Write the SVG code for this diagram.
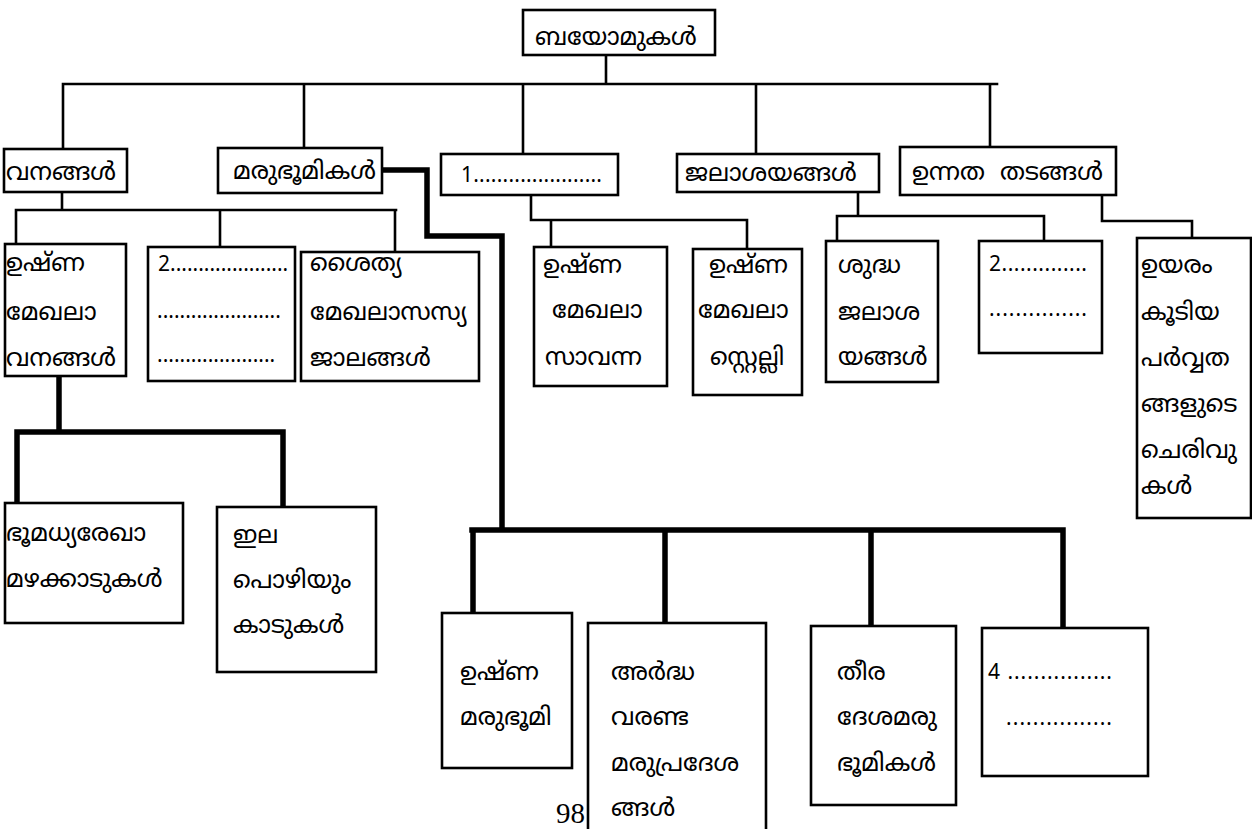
<svg xmlns="http://www.w3.org/2000/svg" width="1252" height="829" viewBox="0 0 1252 829">
<style>
.box{fill:#fff;stroke:#000;stroke-width:2.6}
.t{font-family:"Noto Sans Malayalam","Noto Sans",sans-serif;font-size:24.6px;fill:#000}
.d{font-family:"Noto Sans",sans-serif;font-size:21px;fill:#000}
.c{fill:none;stroke:#000;stroke-width:2.6;stroke-linecap:square}
.k{fill:none;stroke:#000;stroke-width:5.5;stroke-linecap:square}
.pg{font-family:"Liberation Serif",serif;font-size:29px;fill:#000}
</style>
<rect width="1252" height="829" fill="#fff"/>
<g id="connectors">
<path class="c" d="M606 55V84M63 84H997M63 84V148M304 84V148M523 84V154M756 84V154M990 84V147"/>
<path class="c" d="M62 192V210M16 210H396M16 210V244M220 210V246M395 210V251"/>
<path class="c" d="M531 195V220H747M551 220V247M747 220V249"/>
<path class="c" d="M858 192V216M837 216H1044M837 216V241M1044 216V241"/>
<path class="c" d="M1102 195V221H1192V238"/>
<path class="k" d="M384 170H427V236H502V530M472 530H1063M473 530V612M665 530V622M871 530V626M1063 530V628"/>
<path class="k" d="M59 377V432M17 432H283M17 432V501M283 432V505"/>
</g>
<text class="pg" x="556" y="823">98</text>
<g id="n-root"><rect class="box" x="523" y="10" width="192" height="45"/><text class="t" x="535" y="45">ബയോമുകൾ</text></g>
<g id="n-forest"><rect class="box" x="4" y="149" width="123" height="43"/><text class="t" x="6" y="180">വനങ്ങൾ</text></g>
<g id="n-desert"><rect class="box" x="218" y="148" width="164" height="45"/><text class="t" x="233" y="179">മരുഭൂമികൾ</text></g>
<g id="n-blank1"><rect class="box" x="441" y="154" width="177" height="41"/><text class="d" x="461" y="182" textLength="141">1......................</text></g>
<g id="n-water"><rect class="box" x="677" y="154" width="202" height="38"/><text class="t" x="685" y="181">ജലാശയങ്ങൾ</text></g>
<g id="n-high"><rect class="box" x="900" y="147" width="216" height="48"/><text class="t" x="912" y="180" xml:space="preserve">ഉന്നത  തടങ്ങൾ</text></g>
<g id="n-tropical"><rect class="box" x="5" y="244" width="121" height="132"/><text class="t" x="6" y="271">ഉഷ്ണ</text><text class="t" x="6" y="320">മേഖലാ</text><text class="t" x="6" y="366">വനങ്ങൾ</text></g>
<g id="n-blank2"><rect class="box" x="148" y="247" width="147" height="134"/><text class="d" x="158" y="271">2.....................</text><text class="d" x="157" y="318">......................</text><text class="d" x="157" y="362">.....................</text></g>
<g id="n-cold"><rect class="box" x="301" y="252" width="178" height="129"/><text class="t" x="310" y="271">ശൈത്യ</text><text class="t" x="310" y="320">മേഖലാസസ്യ</text><text class="t" x="310" y="366">ജാലങ്ങൾ</text></g>
<g id="n-savanna"><rect class="box" x="534" y="247" width="133" height="139"/><text class="t" x="543" y="273">ഉഷ്ണ</text><text class="t" x="552" y="318">മേഖലാ</text><text class="t" x="545" y="365">സാവന്ന</text></g>
<g id="n-steppe"><rect class="box" x="693" y="249" width="109" height="146"/><text class="t" x="709" y="273">ഉഷ്ണ</text><text class="t" x="698" y="318">മേഖലാ</text><text class="t" x="710" y="365">സ്റ്റെല്ലി</text></g>
<g id="n-fresh"><rect class="box" x="826" y="241" width="112" height="141"/><text class="t" x="838" y="273">ശുദ്ധ</text><text class="t" x="838" y="320">ജലാശ</text><text class="t" x="838" y="365">യങ്ങൾ</text></g>
<g id="n-blank3"><rect class="box" x="979" y="241" width="123" height="112"/><text class="d" x="989" y="271" textLength="98">2..............</text><text class="d" x="989" y="316" textLength="98">...............</text></g>
<g id="n-slopes"><rect class="box" x="1137" y="238" width="114" height="280"/><text class="t" x="1141" y="273">ഉയരം</text><text class="t" x="1141" y="320">കൂടിയ</text><text class="t" x="1141" y="366">പർവ്വത</text><text class="t" x="1141" y="412">ങ്ങളുടെ</text><text class="t" x="1141" y="458">ചെരിവു</text><text class="t" x="1141" y="494">കൾ</text></g>
<g id="n-rain"><rect class="box" x="5" y="503" width="178" height="120"/><text class="t" x="6" y="541">ഭൂമധ്യരേഖാ</text><text class="t" x="6" y="587">മഴക്കാടുകൾ</text></g>
<g id="n-deciduous"><rect class="box" x="217" y="507" width="159" height="165"/><text class="t" x="233" y="543">ഇല</text><text class="t" x="233" y="588">പൊഴിയും</text><text class="t" x="233" y="633">കാടുകൾ</text></g>
<g id="n-hotdesert"><rect class="box" x="442" y="613" width="130" height="155"/><text class="t" x="460" y="680">ഉഷ്ണ</text><text class="t" x="460" y="725">മരുഭൂമി</text></g>
<g id="n-semiarid"><rect class="box" x="588" y="623" width="178" height="220"/><text class="t" x="611" y="680">അർദ്ധ</text><text class="t" x="611" y="725">വരണ്ട</text><text class="t" x="611" y="771">മരുപ്രദേശ</text><text class="t" x="611" y="816">ങ്ങൾ</text></g>
<g id="n-coastal"><rect class="box" x="811" y="626" width="145" height="179"/><text class="t" x="837" y="680">തീര</text><text class="t" x="837" y="725">ദേശമരു</text><text class="t" x="837" y="771">ഭൂമികൾ</text></g>
<g id="n-blank4"><rect class="box" x="982" y="628" width="166" height="148"/><text class="d" x="988" y="679" xml:space="preserve" textLength="124">4 ................</text><text class="d" x="1006" y="725" textLength="106">................</text></g>
</svg>
